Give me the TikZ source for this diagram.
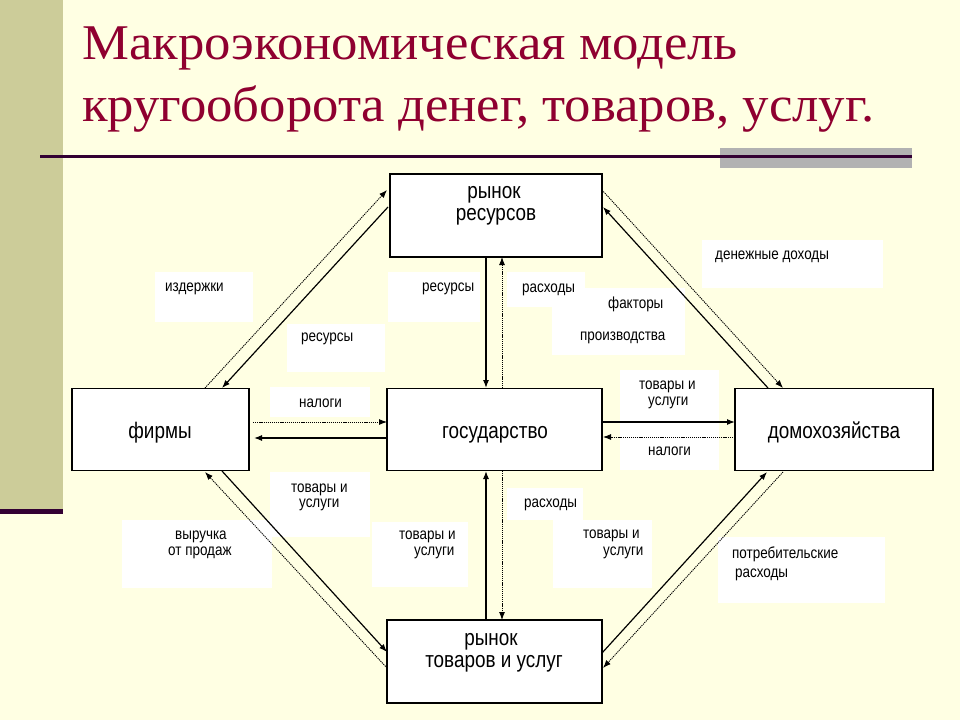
\documentclass[tikz,border=0pt]{standalone}
\usepackage{fontspec}
\usetikzlibrary{arrows.meta}
\newfontfamily\sansx[FakeStretch=0.84]{Liberation Sans}
\newfontfamily\serifx[FakeStretch=1.055]{Liberation Serif}
\definecolor{bgc}{HTML}{FFFFE3}
\definecolor{stripc}{HTML}{CCCC99}
\definecolor{titlec}{HTML}{8F0030}
\definecolor{rulec}{HTML}{330033}
\definecolor{grayc}{HTML}{B2B2B2}
\tikzset{
  bigbox/.style={draw=black, line width=1.3pt, fill=white, inner sep=0pt},
  btxt/.style={inner sep=0pt, anchor=base, font=\sansx\fontsize{22.5}{26}\selectfont},
  ltxt/.style={inner sep=0pt, anchor=base west, font=\sansx\fontsize{16}{15}\selectfont},
  ttl/.style={inner sep=0pt, anchor=base west, text=titlec, font=\serifx\fontsize{50}{58}\selectfont},
  sol/.style={line width=1.2pt, -{Latex[length=8pt,width=6pt]}},
  dot/.style={line width=0.9pt, dash pattern=on 1.2pt off 0.9pt, -{Latex[length=8pt,width=6pt]}},
}
\begin{document}
\begin{tikzpicture}[x=1pt,y=-1pt]
% background
\fill[bgc] (0,0) rectangle (960,720);
\useasboundingbox (0,0) rectangle (960,720);
\fill[stripc] (0,0) rectangle (63,509);
\fill[rulec] (0,509) rectangle (63,514);
\fill[grayc] (720,148) rectangle (912,168);
\fill[rulec] (40,155) rectangle (912,158);
% title
\node[ttl] (t1) at (82,59) {Макроэкономическая модель};
\node[ttl] (t2) at (82,121) {кругооборота денег, товаров, услуг.};
% white label areas
\fill[white] (155,272) rectangle (253,322);
\fill[white] (388,272) rectangle (480,322);
\fill[white] (287,324) rectangle (385,372);
\fill[white] (507,272) rectangle (585,307);
\fill[white] (552,288) rectangle (685,355);
\fill[white] (702,240) rectangle (883,288);
\fill[white] (270,387) rectangle (370,417);
\fill[white] (270,472) rectangle (370,537);
\fill[white] (122,520) rectangle (272,588);
\fill[white] (372,522) rectangle (468,587);
\fill[white] (620,370) rectangle (719,470);
\fill[white] (507,488) rectangle (583,520);
\fill[white] (553,520) rectangle (652,588);
\fill[white] (718,537) rectangle (885,603);
% main boxes
\node[bigbox, minimum width=212pt, minimum height=83pt] (rr) at (496,215.5) {};
\node[bigbox, minimum width=177pt, minimum height=82pt] (fi) at (160.5,429.5) {};
\node[bigbox, minimum width=215pt, minimum height=82pt] (go) at (494.5,429.5) {};
\node[bigbox, minimum width=198pt, minimum height=82pt] (dh) at (834,429.5) {};
\node[bigbox, minimum width=215pt, minimum height=83pt] (rt) at (494.5,661.5) {};
% box texts
\node[btxt] (rr1) at (494,198) {рынок};
\node[btxt] (rr2) at (496,220) {ресурсов};
\node[btxt] (fi1) at (160,438) {фирмы};
\node[btxt] (go1) at (495,438) {государство};
\node[btxt] (dh1) at (834,438) {домохозяйства};
\node[btxt] (rt1) at (491,645) {рынок};
\node[btxt] (rt2) at (494,667) {товаров и услуг};
% connector end points
\coordinate (a1s) at (205,388); \coordinate (a1e) at (387,190);
\coordinate (a2s) at (388,207); \coordinate (a2e) at (222,388);
\coordinate (a3s) at (602,190); \coordinate (a3e) at (783,388);
\coordinate (a4s) at (768,388); \coordinate (a4e) at (603,207);
\coordinate (a5s) at (486,257); \coordinate (a5e) at (486,388);
\coordinate (a6s) at (502,388); \coordinate (a6e) at (502,257);
\coordinate (a7s) at (253,422); \coordinate (a7e) at (387,422);
\coordinate (a8s) at (387,438); \coordinate (a8e) at (254,438);
\coordinate (a9s) at (602,422); \coordinate (a9e) at (735,422);
\coordinate (a10s) at (735,437); \coordinate (a10e) at (603,437);
\coordinate (a11s) at (486,620); \coordinate (a11e) at (486,471);
\coordinate (a12s) at (502,471); \coordinate (a12e) at (502,620);
\coordinate (a13s) at (222,471); \coordinate (a13e) at (387,652);
\coordinate (a14s) at (387,668); \coordinate (a14e) at (205,472);
\coordinate (a15s) at (602,653); \coordinate (a15e) at (767,472);
\coordinate (a16s) at (783,472); \coordinate (a16e) at (603,668);
% connectors
\draw[dot] (a1s) -- (a1e);
\draw[sol] (a2s) -- (a2e);
\draw[dot] (a3s) -- (a3e);
\draw[sol] (a4s) -- (a4e);
\draw[sol] (a5s) -- (a5e);
\draw[dot] (a6s) -- (a6e);
\draw[dot] (a7s) -- (a7e);
\draw[sol] (a8s) -- (a8e);
\draw[sol] (a9s) -- (a9e);
\draw[dot] (a10s) -- (a10e);
\draw[sol] (a11s) -- (a11e);
\draw[dot] (a12s) -- (a12e);
\draw[sol] (a13s) -- (a13e);
\draw[dot] (a14s) -- (a14e);
\draw[sol] (a15s) -- (a15e);
\draw[dot] (a16s) -- (a16e);
% label texts
\node[ltxt] (l1) at (165,291) {издержки};
\node[ltxt] (l2) at (422,291) {ресурсы};
\node[ltxt] (l3) at (301,341) {ресурсы};
\node[ltxt] (l4) at (522,292) {расходы};
\node[ltxt] (l5a) at (608,308) {факторы};
\node[ltxt] (l5b) at (580,340) {производства};
\node[ltxt] (l6) at (715,259) {денежные доходы};
\node[ltxt] (l7) at (299,407) {налоги};
\node[ltxt] (l8a) at (291,492) {товары и};
\node[ltxt] (l8b) at (299,507) {услуги};
\node[ltxt] (l9a) at (175,539) {выручка};
\node[ltxt] (l9b) at (168,555) {от продаж};
\node[ltxt] (l10a) at (399,539) {товары и};
\node[ltxt] (l10b) at (414,555) {услуги};
\node[ltxt] (l11a) at (639,389) {товары и};
\node[ltxt] (l11b) at (648,405) {услуги};
\node[ltxt] (l12) at (648,455) {налоги};
\node[ltxt] (l13) at (524,507) {расходы};
\node[ltxt] (l14a) at (583,538) {товары и};
\node[ltxt] (l14b) at (603,555) {услуги};
\node[ltxt] (l15a) at (732,558) {потребительские};
\node[ltxt] (l15b) at (735,577) {расходы};
\end{tikzpicture}
\end{document}
